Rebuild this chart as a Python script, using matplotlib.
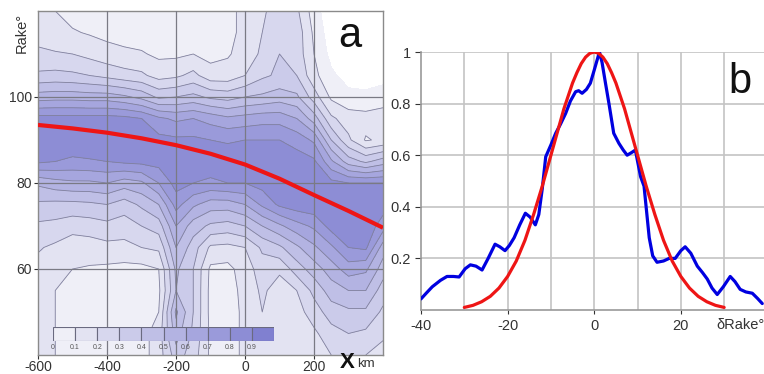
import numpy as np
import matplotlib
matplotlib.use('Agg')
import matplotlib.pyplot as plt

plt.rcParams['font.family'] = ['Liberation Sans', 'DejaVu Sans']
plt.rcParams['axes.unicode_minus'] = False

# ---------------- Panel a data ----------------
x_km = [-600, -550, -500, -450, -400, -350, -300, -250, -200, -150, -100,
        -50, 0, 50, 100, 150, 200, 250, 300, 350, 400]
rake_deg = [120, 115, 110, 105, 100, 95, 90, 85, 80, 75, 70, 65, 60, 55, 50, 45, 40]
density = [
    [0.14, 0.10, 0.06, 0.05, 0.05, 0.05, 0.05, 0.05, 0.05, 0.05, 0.06, 0.08, 0.12, 0.18, 0.26, 0.22, 0.05, -0.08, -0.10, -0.10, -0.10],
    [0.16, 0.13, 0.11, 0.09, 0.07, 0.06, 0.05, 0.05, 0.05, 0.05, 0.06, 0.08, 0.12, 0.20, 0.30, 0.26, 0.08, -0.06, -0.10, -0.10, -0.10],
    [0.22, 0.21, 0.20, 0.17, 0.14, 0.12, 0.11, 0.08, 0.08, 0.10, 0.07, 0.09, 0.14, 0.22, 0.30, 0.26, 0.10, -0.03, -0.08, -0.08, -0.08],
    [0.32, 0.33, 0.32, 0.30, 0.27, 0.24, 0.22, 0.16, 0.18, 0.23, 0.14, 0.14, 0.20, 0.28, 0.32, 0.30, 0.13, 0.02, -0.04, -0.04, -0.03],
    [0.55, 0.56, 0.56, 0.55, 0.55, 0.52, 0.47, 0.38, 0.40, 0.43, 0.38, 0.36, 0.40, 0.42, 0.45, 0.42, 0.25, 0.08, 0.03, 0.02, 0.04],
    [0.84, 0.84, 0.84, 0.84, 0.84, 0.83, 0.80, 0.72, 0.68, 0.70, 0.66, 0.62, 0.64, 0.66, 0.66, 0.60, 0.45, 0.22, 0.15, 0.14, 0.16],
    [0.87, 0.87, 0.87, 0.87, 0.87, 0.86, 0.85, 0.83, 0.82, 0.82, 0.80, 0.79, 0.80, 0.80, 0.80, 0.76, 0.68, 0.40, 0.22, 0.09, 0.12],
    [0.82, 0.80, 0.78, 0.79, 0.80, 0.82, 0.83, 0.84, 0.85, 0.86, 0.86, 0.85, 0.85, 0.86, 0.86, 0.85, 0.82, 0.62, 0.45, 0.38, 0.45],
    [0.52, 0.56, 0.58, 0.58, 0.60, 0.55, 0.58, 0.70, 0.84, 0.80, 0.78, 0.80, 0.80, 0.84, 0.86, 0.87, 0.86, 0.83, 0.80, 0.80, 0.80],
    [0.38, 0.37, 0.37, 0.38, 0.40, 0.35, 0.42, 0.50, 0.74, 0.62, 0.55, 0.55, 0.60, 0.72, 0.82, 0.86, 0.87, 0.87, 0.87, 0.87, 0.85],
    [0.28, 0.27, 0.24, 0.25, 0.27, 0.25, 0.30, 0.35, 0.60, 0.45, 0.38, 0.36, 0.40, 0.50, 0.58, 0.66, 0.72, 0.84, 0.87, 0.87, 0.75],
    [0.21, 0.18, 0.14, 0.15, 0.17, 0.17, 0.20, 0.22, 0.50, 0.35, 0.18, 0.17, 0.20, 0.32, 0.38, 0.48, 0.58, 0.68, 0.80, 0.82, 0.55],
    [0.17, 0.13, 0.10, 0.09, 0.08, 0.07, 0.07, 0.10, 0.42, 0.30, 0.08, 0.07, 0.15, 0.25, 0.22, 0.35, 0.45, 0.55, 0.65, 0.62, 0.45],
    [0.15, 0.10, 0.07, 0.06, 0.05, 0.05, 0.05, 0.08, 0.40, 0.30, 0.07, 0.06, 0.13, 0.22, 0.15, 0.20, 0.33, 0.45, 0.50, 0.50, 0.35],
    [0.13, 0.10, 0.07, 0.06, 0.05, 0.05, 0.05, 0.10, 0.52, 0.30, 0.07, 0.06, 0.12, 0.20, 0.14, 0.16, 0.25, 0.35, 0.38, 0.38, 0.28],
    [0.13, 0.10, 0.07, 0.06, 0.05, 0.05, 0.06, 0.15, 0.45, 0.28, 0.08, 0.06, 0.12, 0.18, 0.14, 0.15, 0.18, 0.26, 0.30, 0.28, 0.22],
    [0.13, 0.10, 0.07, 0.06, 0.05, 0.05, 0.06, 0.15, 0.35, 0.25, 0.08, 0.06, 0.12, 0.16, 0.13, 0.14, 0.15, 0.20, 0.22, 0.20, 0.16],
]
levels = [0.0, 0.1, 0.2, 0.3, 0.4, 0.5, 0.6, 0.7, 0.8, 0.9, 1.0]
level_labels = ['0', '0.1', '0.2', '0.3', '0.4', '0.5', '0.6', '0.7', '0.8', '0.9']
band_colors = ['#efeff7', '#e3e3f2', '#d7d7ee', '#cbcbea', '#bfbfe6',
               '#b3b3e2', '#a6a6de', '#9a9ada', '#8d8dd5', '#8080d0']
fit_x = [-600, -500, -400, -300, -200, -100, 0, 100, 200, 300, 400]
fit_rake = [93.5, 92.7, 91.7, 90.4, 88.8, 86.8, 84.3, 81.0, 77.2, 73.5, 69.6]
a_xticks = [-600, -400, -200, 0, 200]
a_yticks = [60, 80, 100]

# ---------------- Panel b data ----------------
drake_blue = [-40, -38.8, -37.4, -35.5, -34, -32.5, -31.2, -29.8, -28.6, -27.3, -25.9,
              -24.5, -22.9, -21.8, -20.6, -19.6, -18.5, -17.2, -15.9, -14.8, -13.6,
              -12.8, -12, -11.2, -10, -8.9, -7.8, -6.6, -5.5, -4.3, -3.6, -2.8, -1.8,
              -0.9, 0, 1.2, 1.8, 2.6, 3.4, 4.5, 5.7, 6.7, 7.6, 8.6, 9.5, 10.7, 11.5,
              12.7, 13.5, 14.5, 16, 17.3, 18.7, 20, 21, 22.3, 23.8, 25, 26.1, 27.2,
              28.4, 29.8, 31.4, 32.5, 33.7, 35, 36.5, 37.7, 38.8]
dens_blue = [0.043, 0.065, 0.09, 0.115, 0.13, 0.13, 0.128, 0.16, 0.175, 0.17, 0.155,
             0.2, 0.255, 0.245, 0.23, 0.25, 0.28, 0.33, 0.375, 0.36, 0.33,
             0.37, 0.47, 0.594, 0.64, 0.685, 0.72, 0.762, 0.81, 0.846, 0.85, 0.84, 0.855,
             0.879, 0.93, 1.0, 0.96, 0.879, 0.8, 0.685, 0.646, 0.62, 0.60, 0.61, 0.62, 0.517, 0.48,
             0.28, 0.21, 0.185, 0.19, 0.20, 0.20, 0.23, 0.245, 0.22, 0.17, 0.145, 0.12, 0.085,
             0.06, 0.09, 0.13, 0.11, 0.08, 0.07, 0.065, 0.045, 0.025]
drake_red = [-30, -28, -26, -24, -22, -20, -18, -16, -14, -12, -10, -9, -8, -7, -6, -5, -4,
             -3, -2, -1, 0, 1, 2, 3, 4, 5, 6, 7, 8, 9, 10, 12, 14, 16, 18, 20, 22, 24, 26, 28, 30]
dens_red = [0.01, 0.018, 0.032, 0.053, 0.085, 0.13, 0.19, 0.27, 0.37, 0.48, 0.60, 0.66,
            0.72, 0.78, 0.83, 0.88, 0.92, 0.955, 0.98, 0.995, 1.0, 0.995, 0.98, 0.955, 0.92,
            0.88, 0.83, 0.78, 0.72, 0.66, 0.60, 0.48, 0.37, 0.27, 0.19, 0.13, 0.085, 0.053,
            0.032, 0.018, 0.01]
b_xticks = [-40, -20, 0, 20]
b_xgrid = [-30, -20, -10, 0, 10, 20, 30]
b_yticks = [0.2, 0.4, 0.6, 0.8, 1.0]
b_yticklabels = ['0.2', '0.4', '0.6', '0.8', '1']

W, H = 764, 374
fig = plt.figure(figsize=(W / 100, H / 100), dpi=100)

# ---------------- Panel a ----------------
axa = fig.add_axes([38 / W, 1 - 355 / H, 345 / W, 344 / H])
X, Y = np.meshgrid(np.array(x_km), np.array(rake_deg))
Z = np.array(density)
axa.contourf(X, Y, Z, levels=levels, colors=band_colors, zorder=1)
axa.contour(X, Y, Z, levels=levels[1:-1], colors='#80809c', linewidths=0.6, zorder=2)
axa.set_xlim(-600, 400)
axa.set_ylim(40, 120)
for gx in a_xticks[1:]:
    axa.axvline(gx, color='#7a7a84', lw=0.9, zorder=3)
for gy in a_yticks:
    axa.axhline(gy, color='#7a7a84', lw=0.9, zorder=3)
axa.plot(fit_x, fit_rake, color='#ee1515', lw=3.0, zorder=5, solid_capstyle='butt')
axa.set_xticks(a_xticks)
axa.set_yticks(a_yticks)
axa.tick_params(axis='both', labelsize=10, colors='#333333', length=3, width=0.8, pad=1.5)
axa.tick_params(axis='x', pad=0.5)
for s in axa.spines.values():
    s.set_color('#8a8a8a')
    s.set_linewidth(1.0)
axa.text(305, 114.3, 'a', fontsize=30, ha='center', va='center', color='#111111', zorder=6)
fig.text(22 / W, 1 - 33 / H, 'Rake°', rotation=90, ha='center', va='center',
         fontsize=10.5, color='#333333')
fig.text(340 / W, 1 - 363 / H, 'X', fontsize=16, fontweight='bold', ha='left', va='center',
         color='#111111')
fig.text(357 / W, 1 - 364 / H, 'km', fontsize=9.5, ha='left', va='center', color='#333333')

# colorbar inside panel a
axc = fig.add_axes([53 / W, 1 - 341 / H, 221 / W, 14 / H])
axc.patch.set_alpha(0)
axc.bar(levels[:-1], [1] * 10, width=0.1, align='edge', color=band_colors,
        edgecolor='#6a6a80', linewidth=0.8)
axc.set_xlim(0, 1)
axc.set_ylim(0, 1)
axc.set_yticks([])
axc.set_xticks(levels[:-1])
axc.set_xticklabels(level_labels)
axc.tick_params(axis='x', length=0, labelsize=5, colors='#555555', pad=2.5)
for s in axc.spines.values():
    s.set_visible(False)

# ---------------- Panel b ----------------
axb = fig.add_axes([421 / W, 1 - 310 / H, 343 / W, 258 / H])
axb.set_xlim(-40, 39.2)
axb.set_ylim(0, 1)
for gx in b_xgrid:
    axb.axvline(gx, color='#c4c4c4', lw=1.2, zorder=1)
for gy in b_yticks:
    axb.axhline(gy, color='#c4c4c4', lw=1.2, zorder=1)
axb.plot(drake_blue, dens_blue, color='#0000e0', lw=2.3, zorder=3,
         solid_joinstyle='round', solid_capstyle='round')
axb.plot(drake_red, dens_red, color='#ee1515', lw=2.3, zorder=4,
         solid_joinstyle='round', solid_capstyle='round')
axb.set_xticks(b_xticks)
axb.set_yticks(b_yticks)
axb.set_yticklabels(b_yticklabels)
axb.tick_params(axis='both', labelsize=10.5, colors='#333333', length=4, width=0.8)
axb.tick_params(axis='x', length=3)
axb.spines['top'].set_visible(False)
axb.spines['right'].set_visible(False)
axb.spines['left'].set_color('#9a9a9a')
axb.spines['bottom'].set_color('#9a9a9a')
axb.spines['left'].set_linewidth(1.2)
axb.spines['bottom'].set_linewidth(1.2)
axb.text(33.7, 0.885, 'b', fontsize=30, ha='center', va='center', color='#111111')
fig.text(716 / W, 1 - 325 / H, 'δRake°', ha='left', va='center', fontsize=10.5, color='#333333')

fig.savefig('out.png', dpi=100)
